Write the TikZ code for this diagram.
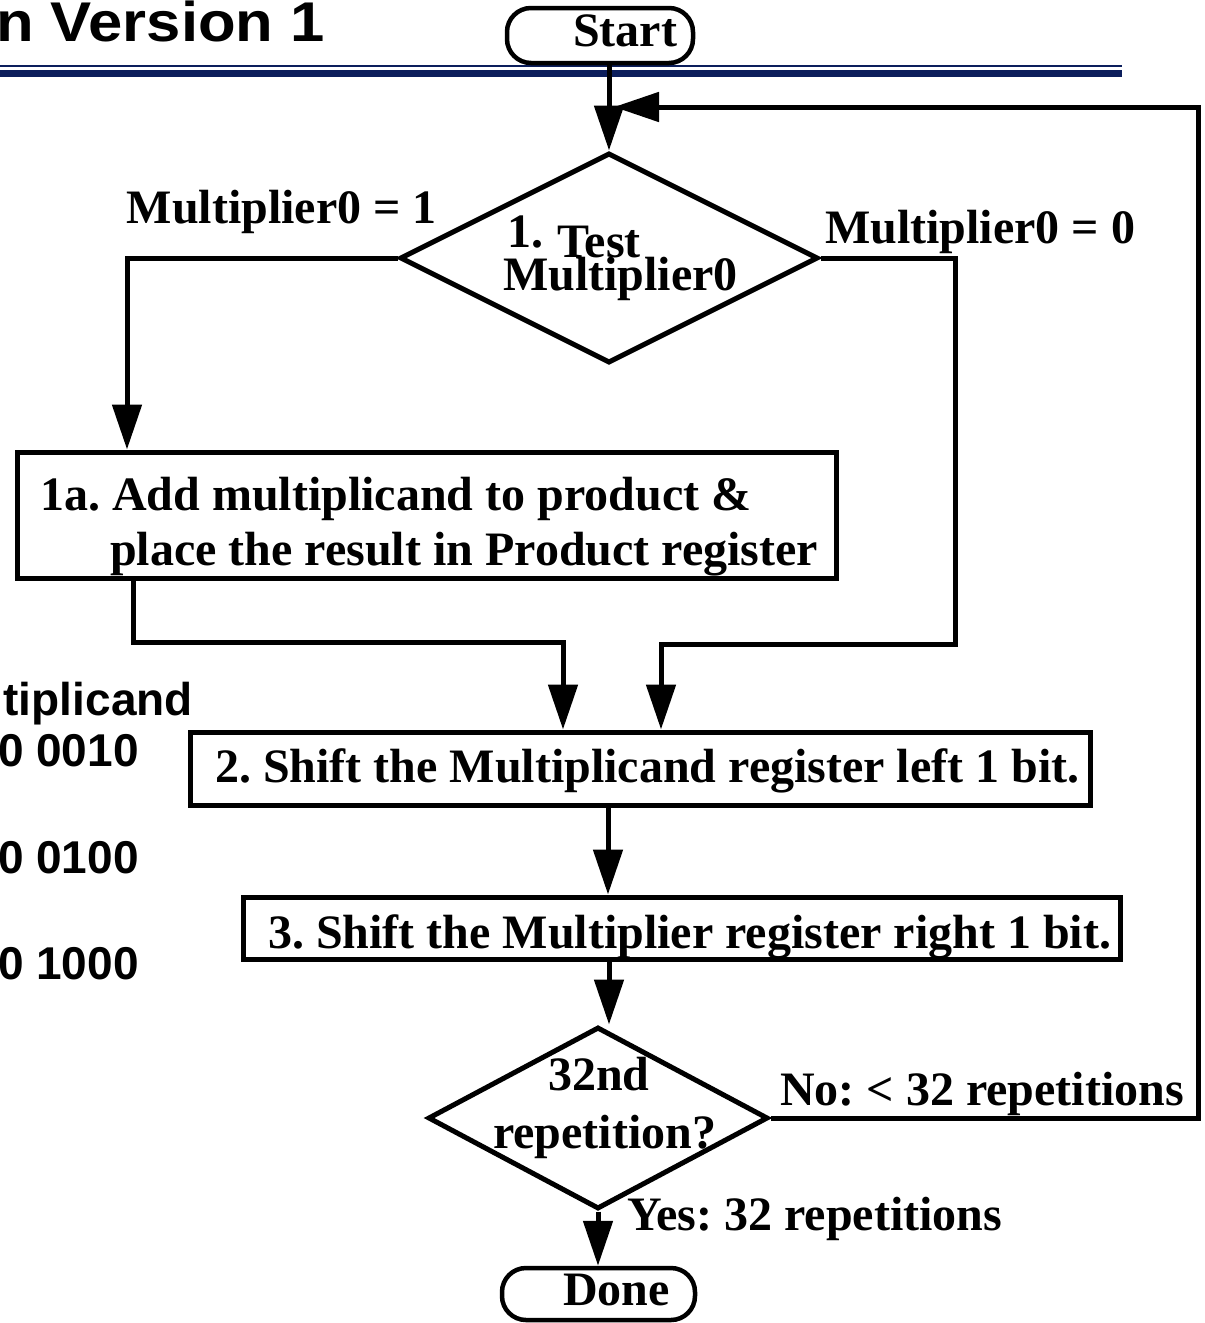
\documentclass[tikz,border=0pt]{standalone}
\usepackage{fontspec}
\setmainfont{Liberation Serif}
\newfontfamily\arialb{Liberation Sans}
\usetikzlibrary{shapes.geometric,arrows.meta}
\definecolor{navy}{RGB}{12,30,92}
\frenchspacing
\begin{document}
\begin{tikzpicture}[x=1pt,y=-1pt,
  flow/.style={line width=5pt},
  arr/.style={flow,-{Triangle[length=45pt,width=29pt]}},
  lbl/.style={font=\fontsize{48}{50}\selectfont\bfseries, inner sep=0pt},
  sanslbl/.style={font=\arialb\fontsize{46}{48}\selectfont\bfseries, inner sep=0pt},
  titlelbl/.style={font=\arialb\fontsize{56}{60}\selectfont\bfseries, inner sep=0pt, xscale=1.1},
  term/.style={draw, line width=4.5pt, rounded corners=24pt, inner sep=0pt},
  procbox/.style={draw, rectangle, line width=5pt, inner sep=0pt},
  decision/.style={draw, diamond, line width=5pt, inner sep=0pt},
  rule/.style={draw=navy}
]
\useasboundingbox (0,0) rectangle (1205,1323);
\fill[white] (0,0) rectangle (1205,1323);

% title and rules
\node[titlelbl, anchor=base east] (title) at (325,41) {n Version 1};
\coordinate (ruleA) at (0,66);
\coordinate (ruleB) at (1122,66);
\coordinate (ruleC) at (0,73.5);
\coordinate (ruleD) at (1122,73.5);
\draw[rule, line width=2pt] (ruleA) -- (ruleB);
\draw[rule, line width=7pt] (ruleC) -- (ruleD);

% side texts
\node[sanslbl, anchor=base east] (s1) at (193,715) {tiplicand};
\node[sanslbl, anchor=base east] (s2) at (139,766) {0 0010};
\node[sanslbl, anchor=base east] (s3) at (139,873) {0 0100};
\node[sanslbl, anchor=base east] (s4) at (139,979) {0 1000};

% shapes
\node[term, minimum width=186pt, minimum height=55pt] (start) at (600,35.5) {};
\node[lbl, anchor=base west] (starttxt) at (573,46) {Start};

\node[decision, minimum width=418pt, minimum height=210pt] (d1) at (609,258) {};
\node[lbl, anchor=base west] (d1a) at (507,247) {1.};
\node[lbl, anchor=base west] (d1b) at (557,257) {Test};
\node[lbl, anchor=base west] (d1c) at (503,290) {Multiplier0};

\node[procbox, minimum width=819pt, minimum height=126pt] (b1) at (426.5,515) {};
\node[lbl, anchor=base west] (b1a) at (40,510) {1a. Add multiplicand to product \&};
\node[lbl, anchor=base west] (b1b) at (110,565) {place the result in Product register};

\node[procbox, minimum width=900pt, minimum height=73pt] (b2) at (640,768.5) {};
\node[lbl, anchor=base west] (b2t) at (215,782) {2. Shift the Multiplicand register left 1 bit.};

\node[procbox, minimum width=877pt, minimum height=62pt] (b3) at (681.5,928) {};
\node[lbl, anchor=base west] (b3t) at (268,948) {3. Shift the Multiplier register right 1 bit.};

\node[decision, minimum width=340pt, minimum height=182pt] (d2) at (598,1118) {};
\node[lbl, anchor=base west] (d2a) at (548,1090) {32nd};
\node[lbl, anchor=base west] (d2b) at (493,1148) {repetition?};

\node[term, minimum width=193pt, minimum height=52pt] (done) at (598.5,1294) {};
\node[lbl, anchor=base west] (donetxt) at (563,1305) {Done};

% edge labels
\node[lbl, anchor=base east] (m1) at (437,223) {Multiplier0 = 1};
\node[lbl, anchor=base west] (m0) at (825,243) {Multiplier0 = 0};
\node[lbl, anchor=base west] (no) at (780,1105) {No: < 32 repetitions};
\node[lbl, anchor=base west] (yes) at (627,1230) {Yes: 32 repetitions};

% connectors
\draw[arr] (start.south -| d1.north) -- (d1.north);
\draw[arr] (d1.west) -| ([xshift=-299.5pt]b1.north);
\draw[arr] ([xshift=-293.5pt]b1.south) -- ++(0,62) -| ([xshift=-77pt]b2.north);
\draw[arr] (d1.east) -- ++(135,0) -- ++(0,386) -| ([xshift=21pt]b2.north);
\draw[arr] ([xshift=-32pt]b2.south) -- ([xshift=-32pt]b2.south |- b3.north);
\draw[arr] ([xshift=-72.5pt]b3.south) -- ([xshift=-72.5pt]b3.south |- d2.north);
\draw[arr] (d2.south) -- (d2.south |- done.north);
\coordinate (loopin) at (614,107);
\draw[arr] (d2.east) -- ++(428,0) |- (loopin);
\end{tikzpicture}
\end{document}
